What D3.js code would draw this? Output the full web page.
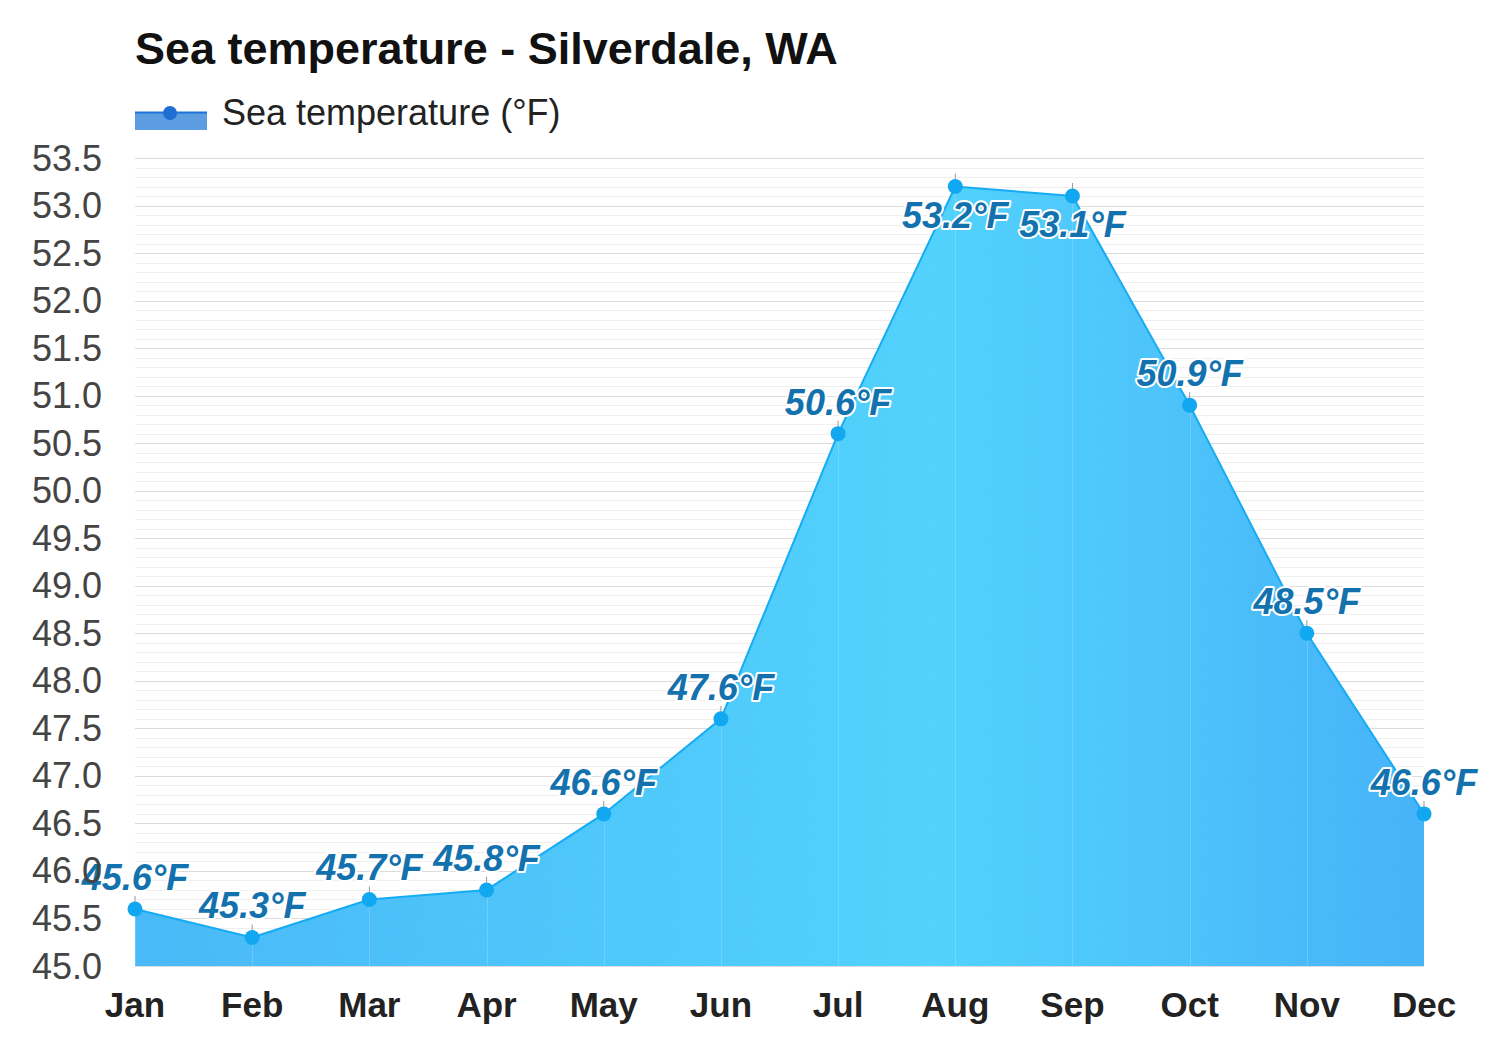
<!DOCTYPE html>
<html><head><meta charset="utf-8">
<script src="https://cdn.jsdelivr.net/npm/d3@7"></script>
<style>body{margin:0;background:#fff;} svg{display:block;font-family:"Liberation Sans",Arial,sans-serif;}</style>
</head><body>
<svg id="chart" width="1500" height="1050"></svg>
<script>
const months = ["Jan","Feb","Mar","Apr","May","Jun","Jul","Aug","Sep","Oct","Nov","Dec"];
const seaTemp = [45.6,45.3,45.7,45.8,46.6,47.6,50.6,53.2,53.1,50.9,48.5,46.6];
const yTicks = [45.0,45.5,46.0,46.5,47.0,47.5,48.0,48.5,49.0,49.5,50.0,50.5,51.0,51.5,52.0,52.5,53.0,53.5];
const labelBelow = ["Aug","Sep"];

const svg = d3.select("#chart");
const pLeft = 135, pRight = 1424, pTop = 158, pBottom = 966;
const x = d3.scalePoint().domain(months).range([pLeft, pRight]);
const y = d3.scaleLinear().domain([45, 53.5]).range([pBottom, pTop]);

const defs = svg.append("defs");
const g = defs.append("linearGradient").attr("id","fillGrad").attr("gradientUnits","userSpaceOnUse")
  .attr("x1", pLeft).attr("x2", pRight).attr("y1",0).attr("y2",0);
g.append("stop").attr("offset","0%").attr("stop-color","#42b6f7");
g.append("stop").attr("offset","62%").attr("stop-color","#4bd0fc");
g.append("stop").attr("offset","100%").attr("stop-color","#3fb0f8");

const minor = d3.range(45, 53.5001, 0.1);
svg.append("g").selectAll("line").data(minor).join("line")
  .attr("x1", pLeft).attr("x2", pRight)
  .attr("y1", d => Math.round(y(d)) + 0.5).attr("y2", d => Math.round(y(d)) + 0.5)
  .attr("stroke", "#efefef").attr("stroke-width", 1);
svg.append("g").selectAll("line").data(yTicks).join("line")
  .attr("x1", pLeft).attr("x2", pRight)
  .attr("y1", d => Math.round(y(d)) + 0.5).attr("y2", d => Math.round(y(d)) + 0.5)
  .attr("stroke", "#dcdcdc").attr("stroke-width", 1);

const area = d3.area().x((d,i) => x(months[i])).y0(pBottom).y1(d => y(d));
svg.append("path").datum(seaTemp).attr("d", area).attr("fill", "url(#fillGrad)").attr("opacity", 0.96);

svg.append("g").selectAll("line").data(seaTemp).join("line")
  .attr("x1", (d,i) => Math.round(x(months[i])) + 0.5).attr("x2", (d,i) => Math.round(x(months[i])) + 0.5)
  .attr("y1", d => y(d)).attr("y2", pBottom)
  .attr("stroke", "#ffffff").attr("stroke-opacity", 0.18).attr("stroke-width", 1);

const line = d3.line().x((d,i) => x(months[i])).y(d => y(d));
svg.append("path").datum(seaTemp).attr("d", line).attr("fill","none").attr("stroke","#16acf3").attr("stroke-width",2);

svg.append("g").selectAll("line").data(seaTemp).join("line")
  .attr("x1", (d,i) => x(months[i])).attr("x2", (d,i) => x(months[i]))
  .attr("y1", d => y(d)).attr("y2", d => y(d) - 13)
  .attr("stroke", "#999").attr("stroke-width", 1);

svg.append("g").selectAll("circle").data(seaTemp).join("circle")
  .attr("cx", (d,i) => x(months[i])).attr("cy", d => y(d)).attr("r", 7.5)
  .attr("fill", "#12a8f1");

svg.append("g").selectAll("text").data(seaTemp).join("text")
  .attr("x", (d,i) => x(months[i]))
  .attr("y", (d,i) => labelBelow.includes(months[i]) ? y(d) + 41 : y(d) - 19)
  .attr("text-anchor", "middle")
  .attr("font-size", 36).attr("font-weight", "bold").attr("font-style", "italic")
  .attr("fill", "#1372ad").attr("stroke", "#ffffff").attr("stroke-width", 4)
  .attr("paint-order", "stroke").attr("stroke-linejoin","round")
  .text(d => d.toFixed(1) + "°F");

svg.append("g").selectAll("text").data(yTicks).join("text")
  .attr("x", 102).attr("y", d => y(d) + 12.5)
  .attr("text-anchor", "end").attr("font-size", 36).attr("fill", "#444")
  .text(d => d.toFixed(1));

svg.append("g").selectAll("text").data(months).join("text")
  .attr("x", d => x(d)).attr("y", 1017)
  .attr("text-anchor", "middle").attr("font-size", 35).attr("font-weight", "bold").attr("fill", "#222")
  .text(d => d);

svg.append("text").attr("x", 135).attr("y", 64).attr("font-size", 45).attr("font-weight","bold").attr("fill","#111")
  .text("Sea temperature - Silverdale, WA");

svg.append("rect").attr("x",135).attr("y",112).attr("width",72).attr("height",18).attr("fill","#5b9de0");
svg.append("line").attr("x1",135).attr("x2",207).attr("y1",112.5).attr("y2",112.5).attr("stroke","#1f73d6").attr("stroke-width",2);
svg.append("circle").attr("cx",170).attr("cy",113).attr("r",7).attr("fill","#1f6fd2");
svg.append("text").attr("x",222).attr("y",125).attr("font-size",36).attr("fill","#222").text("Sea temperature (°F)");
</script>
</body></html>
